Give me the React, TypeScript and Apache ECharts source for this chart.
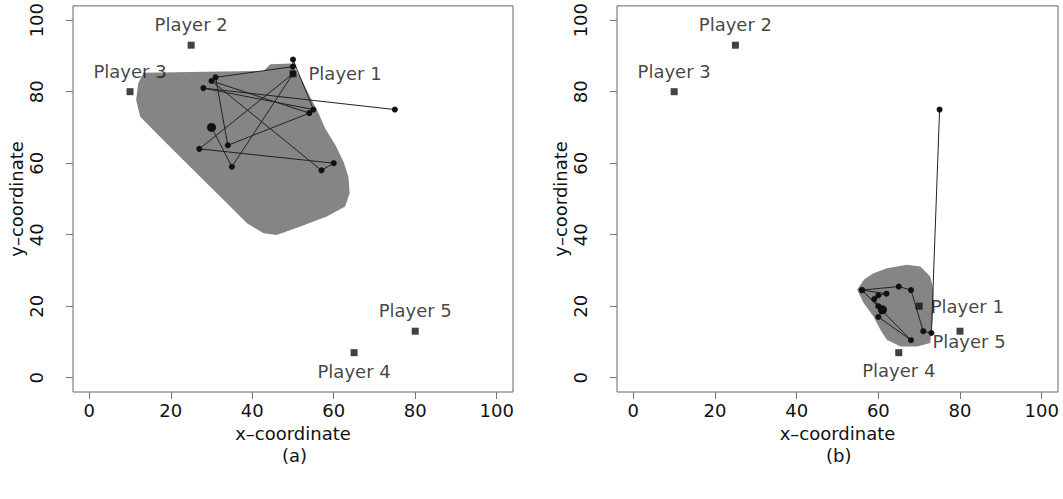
import React, { useEffect, useRef } from "react";
import * as echarts from "echarts";

const tickValues = [0, 20, 40, 60, 80, 100];
const playerNames = ["Player 1", "Player 2", "Player 3", "Player 4", "Player 5"];
const playersA = [[50, 85], [25, 93], [10, 80], [65, 7], [80, 13]];
const playersB = [[70, 20], [25, 93], [10, 80], [65, 7], [80, 13]];

const pathA = [
  [75, 75], [28, 81], [55, 75], [50, 89], [50, 87], [31, 84], [34, 65], [54, 74],
  [30, 83], [57, 58], [60, 60], [27, 64], [50, 85], [35, 59], [30, 70],
];
const pathB = [
  [75, 75], [73, 12.5], [71, 13], [68, 24.5], [65, 25.5], [56, 24.5], [62, 23.5],
  [60, 23], [59, 22], [60, 20], [56, 24.5], [68, 10.5], [60, 17], [61, 19],
];

const regionA = [
  [13.3, 85.3], [42.8, 85.8], [44.4, 87.7], [49.7, 87.9], [52.2, 83.2], [54.2, 78.6],
  [56.3, 73.9], [57.9, 69.7], [60.4, 65.1], [62.4, 60.4], [63.6, 56.2], [63.9, 51.6],
  [62.8, 47.9], [58.3, 45.1], [51.8, 42.3], [46, 39.9], [42.8, 40.4], [38.7, 43.2],
  [33.8, 48.8], [27.2, 56.2], [20.6, 63.7], [15.7, 69.3], [12.5, 73], [11.5, 77.7],
  [12, 82.3],
];
const regionB = [
  [54.8, 24.6], [56.5, 27.5], [58.8, 29.2], [62.1, 30.6], [67, 31.6], [70.3, 31.1],
  [72.7, 28.3], [73.5, 24.6], [73.5, 19], [73.1, 14.3], [72.7, 9.7], [69.5, 8.7],
  [65.4, 8.7], [62.1, 10.6], [60.5, 13.4], [58.8, 17.1], [56.4, 20.9],
];

const FONT = "DejaVu Sans";
const TXT = "#111";

export default function App() {
  const ref = useRef<HTMLDivElement>(null);
  useEffect(() => {
    if (!ref.current) return;
    const chart = echarts.init(ref.current, null, { renderer: "svg" });

    const mkX = (gi: number) => ({
      gridIndex: gi,
      type: "value",
      min: -4,
      max: 104,
      axisLine: { show: false, onZero: false },
      splitLine: { show: false },
      axisTick: { show: true, customValues: tickValues, length: 7, lineStyle: { color: "#777" } },
      axisLabel: { customValues: tickValues, fontSize: 18, fontFamily: FONT, color: TXT, margin: 9 },
      name: "x–coordinate",
      nameLocation: "middle",
      nameGap: 32,
      nameTextStyle: { fontSize: 18, fontFamily: FONT, color: TXT },
    });
    const mkY = (gi: number) => ({
      gridIndex: gi,
      type: "value",
      min: -4,
      max: 104,
      axisLine: { show: false, onZero: false },
      splitLine: { show: false },
      axisTick: { show: true, customValues: tickValues, length: 7, lineStyle: { color: "#777" } },
      axisLabel: { customValues: tickValues, rotate: 90, fontSize: 18, fontFamily: FONT, color: TXT, margin: 28 },
      name: "y–coordinate",
      nameLocation: "middle",
      nameGap: 48,
      nameTextStyle: { fontSize: 18, fontFamily: FONT, color: TXT },
    });

    const regionSeries = (gi: number, pts: number[][]) => ({
      type: "custom",
      xAxisIndex: gi,
      yAxisIndex: gi,
      silent: true,
      z: 1,
      data: [[0, 0]],
      renderItem: (_p: any, api: any) => ({
        type: "polygon",
        shape: { points: pts.map((p) => api.coord(p)) },
        style: { fill: "#858585" },
      }),
    });

    const pathSeries = (gi: number, pts: number[][]) => ({
      type: "line",
      xAxisIndex: gi,
      yAxisIndex: gi,
      data: pts,
      z: 3,
      symbol: "circle",
      symbolSize: (_v: any, params: any) => (params.dataIndex === pts.length - 1 ? 9 : 6),
      itemStyle: { color: "#111" },
      lineStyle: { color: "#222", width: 1 },
    });

    const playerSeries = (gi: number, pts: number[][], positions: any[]) => ({
      type: "scatter",
      xAxisIndex: gi,
      yAxisIndex: gi,
      z: 4,
      symbol: "rect",
      symbolSize: 7,
      itemStyle: { color: "#111" },
      data: pts.map((p, i) => ({
        value: p,
        name: playerNames[i],
        label: positions[i],
      })),
      label: {
        show: true,
        formatter: "{b}",
        fontSize: 18,
        fontFamily: FONT,
        color: TXT,
      },
    });

    const posA = [
      { position: "right", distance: 12 },
      { position: "top", distance: 8 },
      { position: "top", distance: 8 },
      { position: "bottom", distance: 6 },
      { position: "top", distance: 8 },
    ];
    const posB = [
      { position: "right", distance: 8 },
      { position: "top", distance: 8 },
      { position: "top", distance: 8 },
      { position: "bottom", distance: 5 },
      { position: "bottom", distance: 2, offset: [9, -4] },
    ];

    chart.setOption({
      animation: false,
      backgroundColor: "#fff",
      grid: [
        { left: 73, top: 5, width: 440, height: 387, show: true, borderColor: "#666", borderWidth: 1, backgroundColor: "transparent" },
        { left: 617, top: 5, width: 441, height: 387, show: true, borderColor: "#666", borderWidth: 1, backgroundColor: "transparent" },
      ],
      xAxis: [mkX(0), mkX(1)],
      yAxis: [mkY(0), mkY(1)],
      series: [
        regionSeries(0, regionA),
        regionSeries(1, regionB),
        pathSeries(0, pathA),
        pathSeries(1, pathB),
        playerSeries(0, playersA, posA),
        playerSeries(1, playersB, posB),
      ],
      graphic: [
        { type: "text", left: 282, top: 446, style: { text: "(a)", fontSize: 18, fontFamily: FONT, fill: TXT } },
        { type: "text", left: 826, top: 446, style: { text: "(b)", fontSize: 18, fontFamily: FONT, fill: TXT } },
      ],
    });
    return () => chart.dispose();
  }, []);
  return <div ref={ref} style={{ position: "fixed", left: 0, top: 0, width: 1063, height: 499 }} />;
}
